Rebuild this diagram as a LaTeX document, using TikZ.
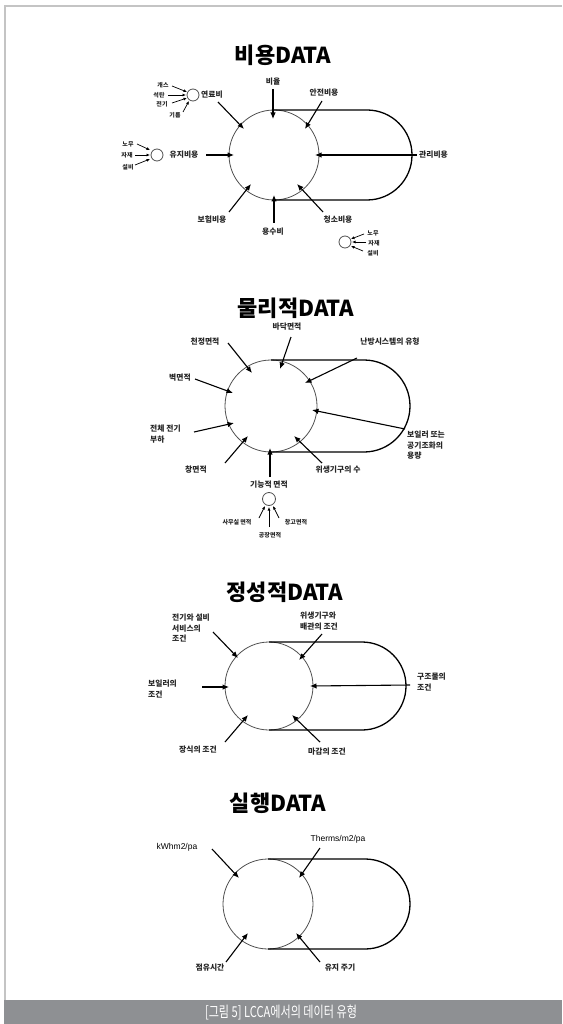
\documentclass[tikz,border=0pt]{standalone}
\usepackage{fontspec}
\setmainfont{Liberation Sans}
\newfontfamily\kr{Noto Sans CJK KR}
\usetikzlibrary{arrows.meta}
\definecolor{framegray}{HTML}{C4C4C4}
\definecolor{bargray}{HTML}{8E9093}
\definecolor{circgray}{HTML}{505050}
\begin{document}
\begin{tikzpicture}[x=1pt,y=-1pt,
 title/.style={font=\kr\bfseries\fontsize{22}{24}\selectfont, inner sep=0},
 lbl/.style={font=\kr\bfseries\fontsize{7.8}{10.5}\selectfont, inner sep=0, align=left, text=black!85},
 tiny/.style={font=\kr\bfseries\fontsize{6}{7}\selectfont, inner sep=0, text=black!85},
 eng/.style={font=\fontsize{8.5}{10}\selectfont, inner sep=0},
 bigc/.style={circle, draw=circgray, line width=0.8pt, inner sep=0, outer sep=0, minimum size=#1},
 smallc/.style={circle, draw=circgray, line width=0.8pt, inner sep=0, outer sep=0, minimum size=12pt},
 track/.style={line width=1.3pt, line join=round},
 arr/.style={-{Latex[length=6.5pt,width=5.5pt]}, line width=1.1pt},
 sarr/.style={-{Latex[length=3.5pt,width=3pt]}, line width=0.7pt},
]
\useasboundingbox (0,0) rectangle (562,1024);
\fill[white] (0,0) rectangle (562,1024);
% frame and caption
\draw[framegray, line width=1.4pt] (5,1000) -- (5,6) -- (562,6);
\fill[bargray] (4,1000) rectangle (562,1024);
\node[inner sep=0, text=white, font=\kr\fontsize{15}{16}\selectfont] (cap) at (281,1012) {\scalebox{0.74}[1]{[그림 5] LCCA에서의 데이터 유형}};

%================ Section 1 =================
\node[title] (t1) at (283,55) {비용DATA};
\node[bigc=90pt] (c1) at (274,155) {};
\draw[track] (c1.north) -- (367,110) arc[start angle=90, end angle=-90, radius=45pt] -- (c1.south);

\node[lbl] (l11) at (273,82) {비율};
\node[lbl] (l12) at (324,93) {안전비용};
\node[lbl] (l13) at (212,95) {연료비};
\node[lbl] (l14) at (184,155) {유지비용};
\node[lbl, anchor=west] (l15) at (419,155) {관리비용};
\node[lbl] (l16) at (212,220) {보험비용};
\node[lbl] (l17) at (273,232) {용수비};
\node[lbl] (l18) at (338,220) {청소비용};

\coordinate (a11s) at (273,89);  \coordinate (a11e) at (273,119);
\coordinate (a12s) at (322,101); \coordinate (a12e) at (305,129);
\coordinate (a13s) at (218,102); \coordinate (a13e) at (244,129);
\coordinate (a14s) at (206,155); \coordinate (a14e) at (234,155);
\coordinate (a15s) at (417,155); \coordinate (a15e) at (315,155);
\coordinate (a16s) at (229,212); \coordinate (a16e) at (251,184);
\coordinate (a17s) at (274,223); \coordinate (a17e) at (274,195);
\coordinate (a18s) at (323,212); \coordinate (a18e) at (297,184);
\foreach \i in {11,...,18} \draw[arr] (a\i s) -- (a\i e);

% small circle: fuel
\node[smallc] (s1) at (193,95) {};
\node[tiny] (f1) at (163,85) {개스};
\node[tiny] (f2) at (159,95) {석탄};
\node[tiny] (f3) at (162,104) {전기};
\node[tiny] (f4) at (175,115) {기름};
\coordinate (b1s) at (172,86);  \coordinate (b1e) at (187,92);
\coordinate (b2s) at (168,95);  \coordinate (b2e) at (186,95);
\coordinate (b3s) at (172,103); \coordinate (b3e) at (187,98);
\coordinate (b4s) at (183,112); \coordinate (b4e) at (189,101);
\foreach \i in {1,...,4} \draw[sarr] (b\i s) -- (b\i e);

% small circle: maintenance
\node[smallc] (s2) at (157,155) {};
\node[tiny] (m1) at (128,144) {노무};
\node[tiny] (m2) at (127,155) {자재};
\node[tiny] (m3) at (128,167) {설비};
\coordinate (d1s) at (137,144); \coordinate (d1e) at (150,150);
\coordinate (d2s) at (135,155); \coordinate (d2e) at (150,155);
\coordinate (d3s) at (135,165); \coordinate (d3e) at (150,159);
\foreach \i in {1,...,3} \draw[sarr] (d\i s) -- (d\i e);

% small circle: lower right
\node[smallc] (s3) at (345,242) {};
\node[tiny] (n1) at (373,233) {노무};
\node[tiny] (n2) at (374,243) {자재};
\node[tiny] (n3) at (373,253) {설비};
\coordinate (e1s) at (364,234); \coordinate (e1e) at (351,239);
\coordinate (e2s) at (366,242); \coordinate (e2e) at (352,242);
\coordinate (e3s) at (363,251); \coordinate (e3e) at (351,246);
\foreach \i in {1,...,3} \draw[sarr] (e\i s) -- (e\i e);

%================ Section 2 =================
\node[title] (t2) at (296,308) {물리적DATA};
\node[bigc=92pt] (c2) at (271,406) {};
\draw[track] (c2.north) -- (364,360) arc[start angle=90, end angle=-90, radius=46pt] -- (c2.south);

\node[lbl] (l21) at (287,327) {바닥면적};
\node[lbl] (l22) at (205,342) {천정면적};
\node[lbl] (l23) at (390,342) {난방시스템의 유형};
\node[lbl] (l24) at (180,378) {벽면적};
\node[lbl, anchor=north west] (l25) at (150,425) {전체 전기\\부하};
\node[lbl] (l26) at (196,470) {창면적};
\node[lbl] (l27) at (269,485) {기능적 면적};
\node[lbl] (l28) at (338,470) {위생기구의 수};
\node[lbl, anchor=north west] (l29) at (407,431) {보일러 또는\\공기조화의\\용량};

\coordinate (a21s) at (291,337); \coordinate (a21e) at (280,369);
\coordinate (a22s) at (228,343); \coordinate (a22e) at (252,373);
\coordinate (a23s) at (357,358); \coordinate (a23e) at (305,383);
\coordinate (a24s) at (195,379); \coordinate (a24e) at (233,393);
\coordinate (a25s) at (194,432); \coordinate (a25e) at (234,423);
\coordinate (a26s) at (225,463); \coordinate (a26e) at (248,436);
\coordinate (a27s) at (270,477); \coordinate (a27e) at (270,448);
\coordinate (a28s) at (322,463); \coordinate (a28e) at (294,436);
\coordinate (a29s) at (405,429); \coordinate (a29e) at (312,410);
\foreach \i in {21,...,29} \draw[arr] (a\i s) -- (a\i e);

\node[smallc, minimum size=13pt] (s4) at (269,499) {};
\node[tiny] (o1) at (237,522) {사무실 면적};
\node[tiny] (o2) at (270,535) {공장면적};
\node[tiny] (o3) at (296,522) {창고면적};
\coordinate (g1s) at (259,518); \coordinate (g1e) at (265,506);
\coordinate (g2s) at (269,527); \coordinate (g2e) at (269,507);
\coordinate (g3s) at (279,518); \coordinate (g3e) at (273,506);
\foreach \i in {1,...,3} \draw[sarr] (g\i s) -- (g\i e);

%================ Section 3 =================
\node[title] (t3) at (285,592) {정성적DATA};
\node[bigc=88pt] (c3) at (269,686) {};
\draw[track] (c3.north) -- (362,642) arc[start angle=90, end angle=-90, radius=44pt] -- (c3.south);

\node[lbl, anchor=north west] (l31) at (172,614) {전기와 설비\\서비스의\\조건};
\node[lbl, anchor=north west] (l32) at (300,612) {위생기구와\\배관의 조건};
\node[lbl, anchor=north west] (l33) at (148,680) {보일러의\\조건};
\node[lbl, anchor=north west] (l34) at (417,673) {구조물의\\조건};
\node[lbl] (l35) at (198,750) {장식의 조건};
\node[lbl] (l36) at (327,752) {마감의 조건};

\coordinate (a31s) at (213,632); \coordinate (a31e) at (238,658);
\coordinate (a32s) at (322,634); \coordinate (a32e) at (299,660);
\coordinate (a33s) at (202,687); \coordinate (a33e) at (229,687);
\coordinate (a34s) at (410,685); \coordinate (a34e) at (310,686);
\coordinate (a35s) at (225,742); \coordinate (a35e) at (248,715);
\coordinate (a36s) at (320,742); \coordinate (a36e) at (292,715);
\foreach \i in {31,...,36} \draw[arr] (a\i s) -- (a\i e);

%================ Section 4 =================
\node[title] (t4) at (278,803) {실행DATA};
\node[bigc=90pt] (c4) at (268,904) {};
\draw[track] (c4.north) -- (365,859) arc[start angle=90, end angle=-90, radius=45pt] -- (c4.south);

\node[eng] (l41) at (177,847) {kWhm2/pa};
\node[eng] (l42) at (338,839) {Therms/m2/pa};
\node[lbl] (l43) at (210,968) {점유시간};
\node[lbl] (l44) at (340,968) {유지 주기};

\coordinate (a41s) at (212,849); \coordinate (a41e) at (239,878);
\coordinate (a42s) at (320,848); \coordinate (a42e) at (299,878);
\coordinate (a43s) at (226,962); \coordinate (a43e) at (248,933);
\coordinate (a44s) at (320,962); \coordinate (a44e) at (296,933);
\foreach \i in {41,...,44} \draw[arr] (a\i s) -- (a\i e);
\end{tikzpicture}
\end{document}
